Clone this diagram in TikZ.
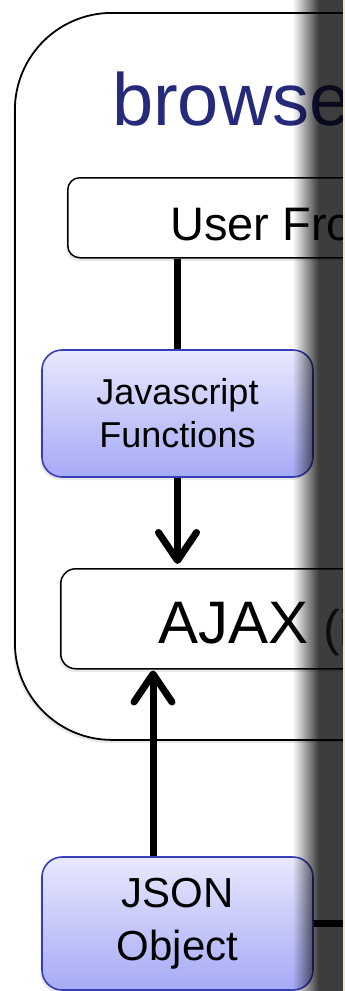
\documentclass[tikz,border=0pt]{standalone}
\usepackage{fontspec}
\setmainfont{Liberation Sans}
\usetikzlibrary{arrows.meta,shadows}
\definecolor{titleblue}{RGB}{38,42,122}
\definecolor{boxtop}{RGB}{232,232,253}
\definecolor{boxbot}{RGB}{166,170,246}
\definecolor{boxline}{RGB}{55,60,185}
\definecolor{edgeline}{RGB}{240,232,196}
\begin{document}
\begin{tikzpicture}[x=1pt,y=-1pt,
  softshadow/.style={drop shadow={shadow xshift=-1.5pt, shadow yshift=-3pt, opacity=0.18}},
  container/.style={draw=black, line width=1.8pt, fill=white, rounded corners=97pt, softshadow},
  whitebox/.style={draw=black, line width=1.5pt, fill=white, rounded corners=12pt, softshadow},
  bluebox/.style={draw=boxline, line width=1.6pt, top color=boxtop, bottom color=boxbot,
    rounded corners=20pt, minimum width=271pt, minimum height=127pt, align=center,
    inner sep=0pt, softshadow},
  plaintext/.style={anchor=base west, inner sep=0pt},
  conn/.style={line width=7pt},
  arr/.style={line width=7pt, -{Straight Barb[length=28pt, width=38pt, round]}},
]
\useasboundingbox (0,0) rectangle (345,991);
\clip (0,0) rectangle (345,991);
\fill[white] (0,0) rectangle (345,991);

% browser container
\node[container, minimum width=520pt, minimum height=727pt, anchor=north west] (browser) at (14,12) {};
\node[plaintext, text=titleblue, font=\fontsize{74}{88}\selectfont] (title) at (112,125) {browse};

% User Front box
\node[whitebox, minimum width=500pt, minimum height=80pt, anchor=north west] (user) at (67,177) {};
\node[plaintext, font=\fontsize{47}{56}\selectfont] (usertxt) at (170,240) {User Fro};

% Javascript Functions
\node[bluebox, font=\fontsize{36}{43}\selectfont] (js) at (177.5,413.5) {Javascript\\Functions};

% AJAX box
\node[whitebox, rounded corners=15pt, minimum width=500pt, minimum height=100pt, anchor=north west] (ajax) at (60,568) {};
\node[plaintext, font=\fontsize{60}{72}\selectfont] (ajaxtxt) at (158,643) {AJAX};
\node[plaintext, text=black!80, font=\fontsize{50}{60}\selectfont] (ajaxsub) at (323,645) {(i};

% JSON Object
\node[bluebox, minimum height=133pt, font=\fontsize{42}{53}\selectfont] (json) at (177.5,923.5) {JSON\\Object};

% connectors
\draw[conn] (js.north) -- (js.north |- user.south);
\draw[arr, shorten >=4pt] (js.south) -- (js.south |- ajax.north);
\draw[arr, shorten >=1pt] ([xshift=-24.5pt]json.north) -- ([xshift=-24.5pt]json.north |- ajax.south);
\coordinate (jend) at (360,923.5);
\draw[conn] (json.east) -- (jend);

% dark overlay on the right (gradient built from thin strips)
\foreach \i in {0,...,25} {
  \pgfmathsetmacro{\op}{0.76*(\i+0.5)/26}
  \fill[black, opacity=\op] (293+\i,0) rectangle (294+\i,991);
}
\fill[black, opacity=0.76] (319,0) rectangle (343,991);
\fill[edgeline] (343,0) rectangle (345,991);
\end{tikzpicture}
\end{document}
